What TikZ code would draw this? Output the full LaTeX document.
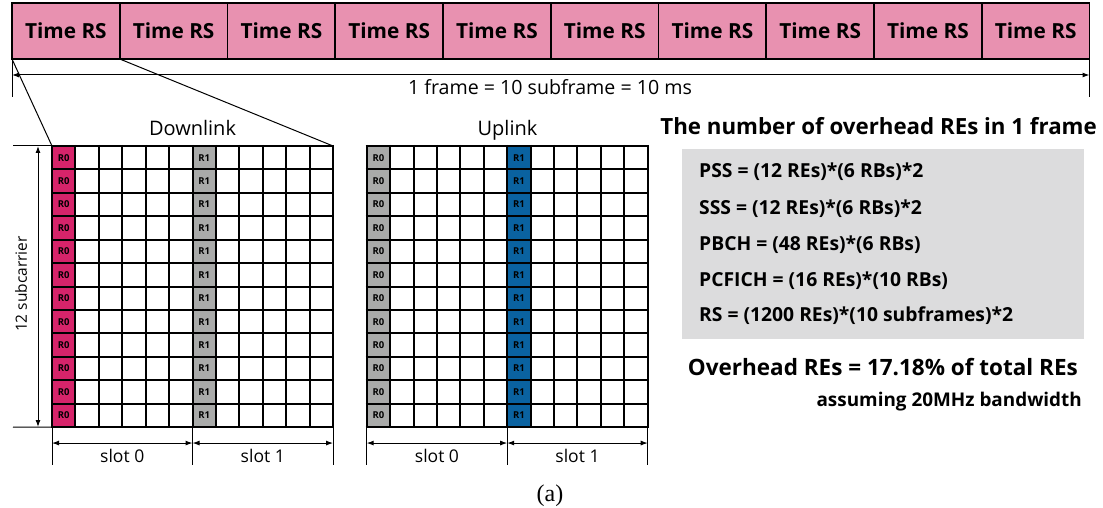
\documentclass[tikz,border=0pt]{standalone}
\usepackage{fontspec}
\setmainfont{Open Sans}
\newfontfamily\serifnf{Liberation Serif}
\usetikzlibrary{arrows.meta}
\definecolor{rspink}{HTML}{E891B0}
\definecolor{rsred}{HTML}{D6246A}
\definecolor{rsgray}{HTML}{A9AAA9}
\definecolor{rsblue}{HTML}{0A62A0}
\definecolor{boxgray}{HTML}{DCDCDD}
\tikzset{
  tbox/.style={draw=black,fill=rspink,line width=1.8pt,minimum width=107.75pt,minimum height=56pt,inner sep=0pt,outer sep=0pt,anchor=north west,font=\fontsize{20.8}{22}\selectfont\bfseries},
  dimarrow/.style={line width=1pt,{Latex[length=7pt,width=5pt]}-{Latex[length=7pt,width=5pt]}},
  thin/.style={line width=1pt},
  gridline/.style={line width=2pt},
  rlab/.style={font=\fontsize{9.5}{10}\selectfont\bfseries,inner sep=0pt},
  lbl/.style={inner sep=0pt,anchor=base},
  boxtxt/.style={inner sep=0pt,anchor=base west,font=\fontsize{19.3}{21}\selectfont\bfseries},
}
\begin{document}
\begin{tikzpicture}[x=1pt,y=-1pt]
\useasboundingbox (0,0) rectangle (1103,508);
\fill[white] (0,0) rectangle (1103,508);
% top bar
\foreach \i in {0,...,9}{
  \node[tbox] (t\i) at ({12+107.75*\i},3) {Time RS};
}
\coordinate (fl) at (12,97);
\coordinate (fr) at (1089.5,97);
\draw[thin] (t0.south west) -- (fl);
\draw[thin] (t9.south east) -- (fr);
\coordinate (al) at (12,75);
\coordinate (ar) at (1089.5,75);
\draw[dimarrow] (al) -- (ar);
\node[lbl,font=\fontsize{19.6}{21}\selectfont] (frame) at (550,95) {1 frame = 10 subframe = 10 ms};

% grids
\def\cs{23.42}
\foreach \gx/\gname/\cA/\cB in {52/d/rsred/rsgray, 366.7/u/rsgray/rsblue}{
  \begin{scope}[shift={(\gx,146)}]
    \fill[\cA] (0,0) rectangle (\cs,{12*\cs});
    \fill[\cB] ({6*\cs},0) rectangle ({7*\cs},{12*\cs});
    \foreach \k in {0,...,12}{
      \draw[gridline] ({\k*\cs},-1) -- ({\k*\cs},{12*\cs+1});
      \draw[gridline] (-1,{\k*\cs}) -- ({12*\cs+1},{\k*\cs});
    }
    \foreach \r in {0,...,11}{
      \node[rlab] (\gname a\r) at ({0.5*\cs},{(\r+0.5)*\cs}) {R0};
      \node[rlab] (\gname b\r) at ({6.5*\cs},{(\r+0.5)*\cs}) {R1};
    }
    \coordinate (\gname tl) at (0,0);
    \coordinate (\gname tr) at ({12*\cs},0);
    \coordinate (\gname bl) at (0,{12*\cs});
    \coordinate (\gname bm) at ({6*\cs},{12*\cs});
    \coordinate (\gname br) at ({12*\cs},{12*\cs});
    \coordinate (\gname sl) at (0,{12*\cs+38});
    \coordinate (\gname sm) at ({6*\cs},{12*\cs+38});
    \coordinate (\gname sr) at ({12*\cs},{12*\cs+38});
    \coordinate (\gname al) at (0,{12*\cs+16});
    \coordinate (\gname am) at ({6*\cs},{12*\cs+16});
    \coordinate (\gname ar) at ({12*\cs},{12*\cs+16});
    \node[lbl,font=\fontsize{17.5}{19}\selectfont] (\gname s0) at ({3*\cs},{12*\cs+35}) {slot 0};
    \node[lbl,font=\fontsize{17.5}{19}\selectfont] (\gname s1) at ({9*\cs},{12*\cs+35}) {slot 1};
  \end{scope}
  \draw[thin] (\gname bl) -- (\gname sl);
  \draw[thin] (\gname bm) -- (\gname sm);
  \draw[thin] (\gname br) -- (\gname sr);
  \draw[dimarrow] (\gname al) -- (\gname am);
  \draw[dimarrow] (\gname am) -- (\gname ar);
}
\node[lbl,font=\fontsize{20}{22}\selectfont] (dl) at (192.5,136) {Downlink};
\node[lbl,font=\fontsize{20}{22}\selectfont] (ul) at (507.5,136) {Uplink};

% zoom lines
\draw[thin] (t0.south west) -- (dtl);
\draw[thin] (t1.south west) -- (dtr);

% subcarrier axis
\coordinate (ht) at (13,146);
\coordinate (hb) at (13,427);
\draw[thin] (ht) -- (dtl);
\draw[thin] (hb) -- (dbl);
\coordinate (vt) at (38,146);
\coordinate (vb) at (38,427);
\draw[dimarrow] (vt) -- (vb);
\node[font=\fontsize{15.5}{17}\selectfont,rotate=90,inner sep=0pt] (sc) at (21,284) {12 subcarrier};

% right panel
\node[inner sep=0pt,anchor=base east,font=\fontsize{22.3}{24}\selectfont\bfseries] (title) at (1097,135) {The number of overhead REs in 1 frame};
\node[fill=boxgray,inner sep=0pt,outer sep=0pt,anchor=north west,minimum width=402pt,minimum height=190pt] (gbox) at (682,149) {};
\node[boxtxt] (pss) at (699,178) {PSS = (12 REs)*(6 RBs)*2};
\node[boxtxt] (sss) at (699,214) {SSS = (12 REs)*(6 RBs)*2};
\node[boxtxt] (pbch) at (699,250) {PBCH = (48 REs)*(6 RBs)};
\node[boxtxt] (pcf) at (699,286) {PCFICH = (16 REs)*(10 RBs)};
\node[boxtxt] (rs) at (699,321) {RS = (1200 REs)*(10 subframes)*2};
\node[inner sep=0pt,anchor=base east,font=\fontsize{22.5}{24}\selectfont\bfseries] (ov) at (1078,375) {Overhead REs = 17.18\% of total REs};
\node[inner sep=0pt,anchor=base east,font=\fontsize{18.9}{20}\selectfont\bfseries] (as) at (1082,406) {assuming 20MHz bandwidth};

\node[lbl,font=\fontsize{24}{26}\selectfont\serifnf] (cap) at (550,501) {(a)};
\end{tikzpicture}
\end{document}
